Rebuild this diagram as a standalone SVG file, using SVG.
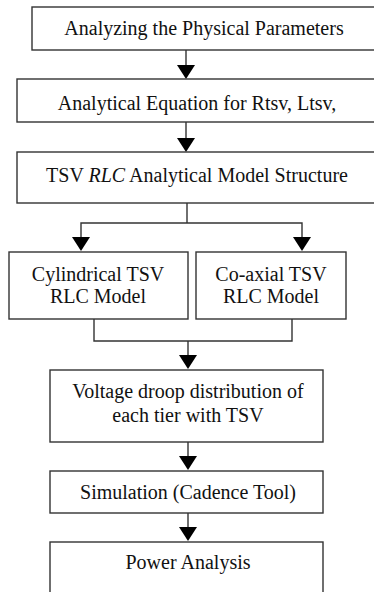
<svg xmlns="http://www.w3.org/2000/svg" width="374" height="592" viewBox="0 0 374 592">
<style>
.box{fill:#fff;stroke:#333;stroke-width:1.4}
.t{font-family:'Liberation Serif','Times New Roman',Tinos,'DejaVu Serif',serif;font-size:20px;fill:#111;text-anchor:middle}
.c{fill:none;stroke:#333;stroke-width:1.4}
</style>
<rect width="374" height="592" fill="#fff"/>
<g id="connectors">
<line class="c" x1="186" y1="50" x2="186" y2="65"/><path d="M177,65 L195,65 L186,79 Z" fill="#000"/>
<line class="c" x1="186" y1="122" x2="186" y2="138"/><path d="M177,138 L195,138 L186,152 Z" fill="#000"/>
<polyline class="c" points="187,203 187,223"/>
<polyline class="c" points="81,237 81,223 302,223 302,237"/>
<path d="M72,237 L90,237 L81,251 Z" fill="#000"/>
<path d="M293,237 L311,237 L302,251 Z" fill="#000"/>
<polyline class="c" points="94,319 94,341 292,341 292,319"/>
<line class="c" x1="188" y1="341" x2="188" y2="355"/><path d="M179,355 L197,355 L188,369 Z" fill="#000"/>
<line class="c" x1="188" y1="442" x2="188" y2="456"/><path d="M179,456 L197,456 L188,470 Z" fill="#000"/>
<line class="c" x1="188" y1="513" x2="188" y2="527"/><path d="M179,527 L197,527 L188,541 Z" fill="#000"/>
</g>
<g id="n1"><rect class="box" x="32" y="7" width="360" height="43"/><text class="t" x="204" y="35" font-family="Liberation Serif, serif">Analyzing the Physical Parameters</text></g>
<g id="n2"><rect class="box" x="17" y="79" width="375" height="43"/><text class="t" x="197" y="110">Analytical Equation for Rtsv, Ltsv,</text></g>
<g id="n3"><rect class="box" x="17" y="152" width="375" height="51"/><text class="t" x="197" y="182">TSV <tspan font-style="italic">RLC</tspan> Analytical Model Structure</text></g>
<g id="n4"><rect class="box" x="9" y="252" width="179" height="67"/><text class="t" x="98" y="281">Cylindrical TSV</text><text class="t" x="98" y="303">RLC Model</text></g>
<g id="n5"><rect class="box" x="196" y="252" width="150" height="67"/><text class="t" x="271" y="281">Co-axial TSV</text><text class="t" x="271" y="303">RLC Model</text></g>
<g id="n6"><rect class="box" x="50" y="370" width="273" height="72"/><text class="t" x="188" y="398">Voltage droop distribution of</text><text class="t" x="188" y="422">each tier with TSV</text></g>
<g id="n7"><rect class="box" x="50" y="471" width="273" height="42"/><text class="t" x="188" y="499">Simulation (Cadence Tool)</text></g>
<g id="n8"><rect class="box" x="50" y="542" width="273" height="60"/><text class="t" x="188" y="569">Power Analysis</text></g>
</svg>
